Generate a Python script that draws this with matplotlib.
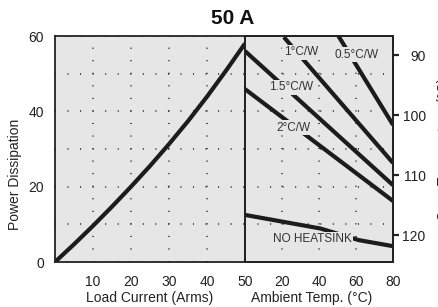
import matplotlib
matplotlib.use("Agg")
import matplotlib.pyplot as plt

plt.rcParams['font.family'] = ['Liberation Sans', 'DejaVu Sans']

# left panel: power dissipation vs load current
load_current = [0, 5, 10, 15, 20, 25, 30, 35, 40, 45, 50]
power_load = [0, 4.7, 9.6, 14.7, 20.0, 25.5, 31.3, 37.4, 43.9, 50.8, 58.0]

# right panel: derating lines vs ambient temperature
amb_05 = [50.5, 80]
pd_05 = [60, 36.4]
amb_1 = [21, 80]
pd_1 = [59.7, 26.3]
amb_15 = [0, 80]
pd_15 = [56.0, 20.4]
amb_2 = [0, 80]
pd_2 = [45.9, 16.2]
amb_nohs = [0, 40.7, 61.6, 80]
pd_nohs = [12.5, 8.9, 5.8, 4.2]

load_ticks = [10, 20, 30, 40, 50]
amb_ticks = [20, 40, 60, 80]
power_ticks = [0, 20, 40, 60]
power_grid = [10, 30, 50]
case_ticks = [90, 100, 110, 120]

bg = '#e6e6e7'
ink = '#1c1c1c'
W, H = 439, 307


def box(x0, y0, x1, y1):
    return [x0 / W, 1 - y1 / H, (x1 - x0) / W, (y1 - y0) / H]


fig = plt.figure(figsize=(W / 100, H / 100), dpi=100)
axL = fig.add_axes(box(55, 36, 245, 262))
axR = fig.add_axes(box(245, 36, 393, 262), sharey=axL)

dots = dict(color='#333333', linewidth=1.3, linestyle=(0, (0.55, 6.4)))

for ax in (axL, axR):
    ax.set_facecolor(bg)
    for s in ax.spines.values():
        s.set_color('#222222')
        s.set_linewidth(1.3)
    ax.set_yticks(power_grid, minor=True)
    ax.grid(which='both', axis='y', **dots)
    ax.grid(which='major', axis='x', **dots)
    ax.tick_params(axis='both', which='both', length=0, labelsize=10,
                   colors='#222222')
    ax.tick_params(axis='x', pad=9)

axL.set_xlim(0, 50)
axL.set_ylim(0, 60)
axL.set_xticks(load_ticks)
axL.set_yticks(power_ticks)
axL.tick_params(axis='y', pad=8)
axL.plot(load_current, power_load, color=ink, lw=3, solid_capstyle='butt')

axR.set_xlim(0, 80)
axR.set_xticks(amb_ticks)
axR.tick_params(axis='y', labelleft=False)
for xs, ys in [(amb_05, pd_05), (amb_1, pd_1), (amb_15, pd_15),
               (amb_2, pd_2), (amb_nohs, pd_nohs)]:
    axR.plot(xs, ys, color=ink, lw=3, solid_capstyle='butt')

lbl = dict(fontsize=8.5, color='#333333', ha='center', va='center',
           bbox=dict(facecolor=bg, edgecolor='none', pad=1.2))
axR.text(30.2, 55.7, '1°C/W', **lbl)
axR.text(60.5, 55.0, '0.5°C/W', **lbl)
axR.text(24.7, 46.4, '1.5°C/W', **lbl)
axR.text(26.1, 35.7, '2°C/W', **lbl)
axR.text(36.2, 6.0, 'NO HEATSINK', **lbl)

axT = axR.twinx()
axT.set_ylim(124.5, 86.8)
axT.set_yticks(case_ticks)
axT.tick_params(axis='y', direction='out', length=4.5, width=1.6,
                pad=19, labelsize=10, colors='#222222')
for t in axT.get_yticklabels():
    t.set_ha('right')
for s in axT.spines.values():
    s.set_color('#222222')
    s.set_linewidth(1.3)

fig.text(233 / W, 1 - 18 / H, '50 A', fontsize=15, fontweight='bold',
         ha='center', va='center', color='#111111')
fig.text(150 / W, 1 - 298 / H, 'Load Current (Arms)', fontsize=10,
         ha='center', va='center', color='#222222')
fig.text(312 / W, 1 - 298 / H, 'Ambient Temp. (°C)', fontsize=10,
         ha='center', va='center', color='#222222')
fig.text(15 / W, 1 - 174 / H, 'Power Dissipation', fontsize=10,
         rotation=90, ha='center', va='center', color='#222222')
fig.text(437 / W, 1 - 149 / H, 'Case Temperature (°C)', fontsize=10,
         rotation=90, ha='left', va='center', color='#222222')

fig.savefig('out.png', dpi=100)
